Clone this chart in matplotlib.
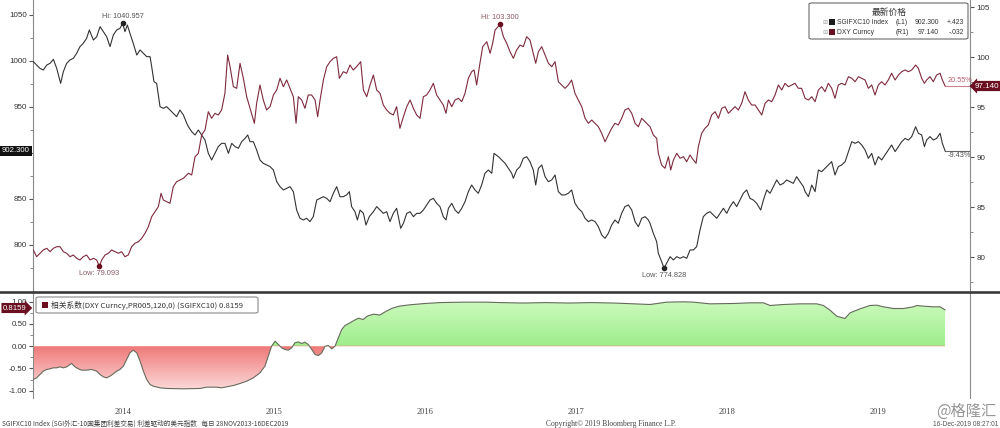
import numpy as np
import matplotlib
matplotlib.use('Agg')
import matplotlib.pyplot as plt
from matplotlib.patches import FancyBboxPatch, Rectangle
from matplotlib.path import Path
from matplotlib.lines import Line2D
import matplotlib.ticker as mt

# ---------------- data (decimal years) ----------------
sg_t = [2013.906, 2013.928, 2013.950, 2013.972, 2013.995, 2014.017, 2014.039, 2014.061, 2014.087, 2014.105,
        2014.127, 2014.149, 2014.171, 2014.193, 2014.215, 2014.237, 2014.259, 2014.277, 2014.304, 2014.326,
        2014.348, 2014.370, 2014.392, 2014.414, 2014.436, 2014.458, 2014.480, 2014.498, 2014.513, 2014.529,
        2014.546, 2014.568, 2014.591, 2014.613, 2014.635, 2014.657, 2014.679, 2014.690, 2014.705, 2014.723,
        2014.745, 2014.767, 2014.789, 2014.811, 2014.833, 2014.855, 2014.877, 2014.900, 2014.922,
        2014.933, 2014.955, 2014.977, 2014.999, 2015.021, 2015.043, 2015.065, 2015.087, 2015.109, 2015.131,
        2015.153, 2015.175, 2015.198, 2015.220, 2015.242, 2015.264, 2015.286, 2015.308, 2015.326, 2015.341,
        2015.363, 2015.385, 2015.407, 2015.429, 2015.451, 2015.474, 2015.496, 2015.518, 2015.540, 2015.562,
        2015.584, 2015.606, 2015.628, 2015.650, 2015.672, 2015.694, 2015.716, 2015.738, 2015.760, 2015.783,
        2015.805, 2015.827, 2015.849, 2015.871, 2015.893, 2015.915, 2015.937,
        2015.959, 2015.981, 2015.999, 2016.014, 2016.036, 2016.052, 2016.070, 2016.092, 2016.109, 2016.131,
        2016.158, 2016.180, 2016.202, 2016.224, 2016.246, 2016.268, 2016.290, 2016.312, 2016.339, 2016.357,
        2016.379, 2016.401, 2016.423, 2016.445, 2016.467, 2016.489, 2016.511, 2016.533, 2016.555, 2016.577,
        2016.599, 2016.621, 2016.639, 2016.655, 2016.677, 2016.699, 2016.721, 2016.743, 2016.765, 2016.787,
        2016.809, 2016.831, 2016.853, 2016.875, 2016.897, 2016.919, 2016.942, 2016.957,
        2016.986, 2017.008, 2017.030, 2017.052, 2017.074, 2017.085, 2017.107, 2017.129, 2017.151, 2017.173,
        2017.195, 2017.217, 2017.233, 2017.251, 2017.273, 2017.295, 2017.317, 2017.339, 2017.361, 2017.383,
        2017.405, 2017.427, 2017.449, 2017.471, 2017.493, 2017.515, 2017.538, 2017.560, 2017.582, 2017.604,
        2017.626, 2017.648, 2017.670, 2017.692, 2017.714, 2017.736, 2017.758, 2017.780, 2017.802, 2017.824,
        2017.847, 2017.869, 2017.891, 2017.913, 2017.935, 2017.957, 2017.979,
        2017.990, 2018.012, 2018.034, 2018.045, 2018.067, 2018.083, 2018.100, 2018.123, 2018.145, 2018.167,
        2018.189, 2018.211, 2018.233, 2018.255, 2018.277, 2018.299, 2018.321, 2018.343, 2018.365, 2018.387,
        2018.409, 2018.432, 2018.454, 2018.476, 2018.498, 2018.520, 2018.542, 2018.564, 2018.586, 2018.608,
        2018.630, 2018.652, 2018.674, 2018.696, 2018.723, 2018.741, 2018.763, 2018.785, 2018.807, 2018.829,
        2018.851, 2018.873, 2018.895, 2018.917, 2018.939, 2018.961, 2018.983, 2019.006,
        2019.017, 2019.039, 2019.061, 2019.083, 2019.105, 2019.127, 2019.149, 2019.171, 2019.193, 2019.215,
        2019.237, 2019.259, 2019.282, 2019.304, 2019.326, 2019.348, 2019.370, 2019.392, 2019.414, 2019.436,
        2019.458, 2019.480, 2019.502, 2019.524, 2019.546, 2019.568, 2019.590, 2019.613, 2019.635, 2019.657,
        2019.679, 2019.701, 2019.723, 2019.749, 2019.767, 2019.789, 2019.807, 2019.822, 2019.844, 2019.866,
        2019.888, 2019.911, 2019.926, 2019.944]
sg_v = [999.3, 995.6, 992.0, 990.2, 995.6, 997.5, 1001.8, 992.0, 975.7, 988.4,
        997.5, 1001.1, 1002.9, 1008.3, 1015.6, 1019.2, 1024.6, 1033.7, 1022.8, 1026.4,
        1037.3, 1031.9, 1026.4, 1015.6, 1028.3, 1033.7, 1035.5, 1040.957, 1031.9, 1039.1,
        1030.1, 1019.2, 1006.5, 1012.0, 1008.3, 1004.7, 1004.7, 993.8, 977.5, 975.7,
        950.4, 948.5, 950.4, 946.7, 943.1, 939.5, 946.7, 941.3, 932.3,
        928.6, 923.2, 919.6, 925.0, 919.6, 914.1, 899.6, 892.4, 899.6, 906.9,
        910.5, 910.5, 899.6, 910.5, 906.9, 905.1, 912.3, 915.9, 919.6, 912.3,
        912.3, 903.3, 892.4, 888.8, 887.0, 885.2, 881.5, 868.8, 863.4, 859.8,
        861.6, 863.4, 858.0, 838.0, 829.0, 827.2, 829.0, 825.4, 830.8, 848.9,
        850.7, 852.5, 850.7, 847.1, 856.2, 863.4, 852.5,
        852.5, 854.4, 858.0, 841.7, 836.2, 827.2, 838.0, 834.4, 821.7, 830.8,
        836.2, 841.7, 838.0, 834.4, 836.2, 825.4, 834.4, 839.9, 818.1, 823.6,
        834.4, 836.2, 830.8, 834.4, 834.4, 838.0, 843.5, 848.9, 850.7, 845.3,
        841.7, 830.8, 827.2, 839.9, 845.3, 838.0, 834.4, 839.9, 847.1, 858.0,
        865.2, 859.8, 856.2, 865.2, 877.9, 881.5, 877.9, 899.6,
        896.0, 892.4, 888.8, 883.3, 877.9, 872.5, 881.5, 885.2, 894.2, 896.0,
        890.6, 881.5, 865.2, 883.3, 887.0, 874.3, 868.8, 870.7, 876.1, 858.0,
        854.4, 854.4, 856.2, 859.8, 845.3, 839.9, 836.2, 829.0, 825.4, 827.2,
        825.4, 819.9, 810.9, 807.2, 812.7, 821.7, 827.2, 823.6, 834.4, 841.7,
        843.5, 838.0, 825.4, 819.9, 829.0, 830.8, 827.2,
        823.6, 812.7, 803.6, 791.0, 781.9, 774.828, 780.1, 787.3, 783.7, 787.3,
        785.5, 787.3, 785.5, 794.6, 794.6, 798.2, 816.3, 830.8, 834.4, 836.2,
        832.6, 829.0, 834.4, 839.9, 834.4, 841.7, 847.1, 841.7, 848.9, 856.2,
        859.8, 850.7, 848.9, 845.3, 838.0, 848.9, 859.8, 856.2, 863.4, 870.7,
        865.2, 867.0, 870.7, 868.8, 867.0, 874.3, 868.8, 863.4,
        858.0, 852.5, 865.2, 858.0, 881.5, 879.7, 883.3, 887.0, 890.6, 876.1,
        885.2, 887.0, 890.6, 901.5, 912.3, 910.5, 912.3, 908.7, 903.3, 894.2,
        899.6, 887.0, 896.0, 892.4, 897.8, 903.3, 908.7, 901.5, 906.9, 912.3,
        915.9, 914.1, 917.8, 928.6, 921.4, 919.6, 906.9, 914.1, 917.8, 914.1,
        915.9, 921.4, 910.5, 902.3]

dxy_t = [2013.906, 2013.928, 2013.950, 2013.972, 2013.995, 2014.017, 2014.039, 2014.061, 2014.083, 2014.105,
         2014.127, 2014.149, 2014.171, 2014.193, 2014.215, 2014.237, 2014.259, 2014.282, 2014.304, 2014.326,
         2014.343, 2014.359, 2014.381, 2014.403, 2014.425, 2014.447, 2014.469, 2014.491, 2014.513, 2014.535,
         2014.557, 2014.579, 2014.602, 2014.624, 2014.646, 2014.668, 2014.690, 2014.712, 2014.734, 2014.752,
         2014.767, 2014.789, 2014.811, 2014.833, 2014.855, 2014.877, 2014.900,
         2014.933, 2014.955, 2014.977, 2014.999, 2015.021, 2015.043, 2015.065, 2015.087, 2015.109, 2015.131,
         2015.153, 2015.175, 2015.193, 2015.209, 2015.231, 2015.253, 2015.275, 2015.297, 2015.319, 2015.341,
         2015.370, 2015.385, 2015.407, 2015.429, 2015.451, 2015.474, 2015.496, 2015.518, 2015.540, 2015.562,
         2015.584, 2015.606, 2015.628, 2015.646, 2015.661, 2015.683, 2015.705, 2015.727, 2015.749, 2015.772,
         2015.789, 2015.805, 2015.827, 2015.849, 2015.871, 2015.893, 2015.915, 2015.933,
         2015.959, 2015.981, 2016.003, 2016.025, 2016.047, 2016.074, 2016.092, 2016.114, 2016.136, 2016.158,
         2016.180, 2016.202, 2016.224, 2016.246, 2016.268, 2016.290, 2016.312, 2016.334, 2016.357, 2016.379,
         2016.401, 2016.423, 2016.445, 2016.467, 2016.489, 2016.511, 2016.533, 2016.555, 2016.577, 2016.599,
         2016.621, 2016.639, 2016.655, 2016.677, 2016.699, 2016.721, 2016.743, 2016.765, 2016.787, 2016.809,
         2016.825, 2016.842, 2016.860, 2016.882, 2016.909, 2016.931, 2016.948,
         2016.964, 2016.997, 2017.019, 2017.041, 2017.063, 2017.085, 2017.107, 2017.129, 2017.151, 2017.173,
         2017.195, 2017.217, 2017.233, 2017.251, 2017.273, 2017.295, 2017.317, 2017.339, 2017.361, 2017.383,
         2017.405, 2017.427, 2017.449, 2017.471, 2017.493, 2017.515, 2017.538, 2017.560, 2017.582, 2017.604,
         2017.626, 2017.648, 2017.670, 2017.692, 2017.714, 2017.736, 2017.758, 2017.780, 2017.802, 2017.824,
         2017.847, 2017.869, 2017.891, 2017.913, 2017.935, 2017.957, 2017.979,
         2017.990, 2018.012, 2018.034, 2018.045, 2018.067, 2018.089, 2018.112, 2018.127, 2018.145, 2018.167,
         2018.189, 2018.211, 2018.233, 2018.255, 2018.277, 2018.295, 2018.310, 2018.332, 2018.354, 2018.376,
         2018.398, 2018.421, 2018.443, 2018.465, 2018.487, 2018.509, 2018.531, 2018.553, 2018.575, 2018.597,
         2018.619, 2018.641, 2018.663, 2018.685, 2018.708, 2018.730, 2018.752, 2018.774, 2018.796, 2018.818,
         2018.840, 2018.862, 2018.884, 2018.906, 2018.928, 2018.950, 2018.972, 2018.994,
         2019.017, 2019.039, 2019.061, 2019.083, 2019.105, 2019.127, 2019.149, 2019.171, 2019.193, 2019.215,
         2019.237, 2019.259, 2019.282, 2019.304, 2019.326, 2019.348, 2019.370, 2019.392, 2019.414, 2019.436,
         2019.458, 2019.480, 2019.502, 2019.524, 2019.546, 2019.568, 2019.590, 2019.613, 2019.635, 2019.657,
         2019.679, 2019.701, 2019.723, 2019.749, 2019.767, 2019.789, 2019.807, 2019.822, 2019.844, 2019.866,
         2019.888, 2019.911, 2019.926, 2019.944]
dxy_v = [80.73, 80.06, 80.40, 80.73, 80.90, 80.56, 80.90, 81.06, 81.06, 80.56,
         80.40, 80.06, 80.23, 79.90, 79.73, 80.06, 80.23, 79.73, 79.90, 79.73,
         79.093, 79.73, 80.23, 80.40, 80.73, 80.56, 80.40, 80.56, 80.06, 80.23,
         81.06, 81.40, 81.56, 81.90, 82.40, 83.06, 84.06, 84.56, 85.06, 86.40,
         85.73, 85.56, 85.40, 87.06, 87.56, 87.73, 87.90,
         88.40, 88.23, 90.06, 90.40, 92.23, 92.73, 94.56, 93.90, 94.40, 94.23,
         94.73, 96.40, 100.23, 99.06, 97.06, 96.90, 99.40, 97.90, 96.06, 94.90,
         93.40, 95.40, 97.23, 95.73, 94.73, 95.06, 96.23, 96.73, 97.90, 97.06,
         97.73, 96.90, 96.06, 93.40, 96.06, 95.73, 94.90, 96.23, 96.23, 95.73,
         94.06, 95.73, 97.73, 99.06, 99.56, 99.90, 100.06, 97.90,
         98.56, 98.40, 99.23, 98.73, 99.06, 99.56, 96.73, 96.06, 97.23, 98.23,
         96.73, 96.40, 95.23, 94.73, 94.40, 94.23, 95.06, 92.90, 94.06, 95.06,
         95.73, 94.90, 94.23, 93.90, 96.06, 96.23, 96.73, 97.40, 96.23, 95.73,
         95.23, 94.40, 95.73, 95.06, 95.73, 95.90, 95.56, 96.40, 97.90, 98.56,
         98.73, 97.23, 99.06, 101.06, 101.56, 100.40, 101.40,
         102.73, 103.30, 102.06, 101.40, 100.56, 99.90, 100.73, 101.23, 101.06, 102.06,
         101.73, 100.40, 99.40, 100.56, 101.06, 100.23, 99.40, 99.06, 99.56, 97.56,
         97.23, 96.90, 97.23, 97.73, 96.40, 95.73, 95.06, 93.90, 93.40, 93.73,
         93.40, 93.06, 92.40, 91.56, 92.23, 92.90, 93.40, 93.23, 93.90, 94.73,
         94.90, 94.40, 93.40, 93.06, 93.90, 93.56, 93.23,
         93.06, 92.23, 91.90, 90.40, 89.23, 88.90, 90.06, 88.73, 89.73, 90.40,
         89.90, 90.06, 89.56, 90.23, 89.73, 89.40, 91.06, 92.40, 92.90, 93.23,
         94.23, 94.56, 93.90, 94.90, 95.06, 94.40, 94.73, 95.06, 94.73, 95.40,
         96.56, 95.73, 95.23, 95.23, 94.73, 94.23, 95.40, 95.73, 95.56, 96.23,
         97.23, 96.73, 97.40, 97.06, 97.23, 97.40, 96.90, 96.90,
         95.90, 95.73, 96.06, 95.56, 96.73, 97.06, 96.56, 97.40, 96.90, 95.90,
         97.23, 97.40, 97.23, 98.06, 97.90, 97.56, 98.06, 97.90, 97.73, 96.90,
         97.23, 96.23, 97.23, 97.56, 97.23, 97.73, 98.40, 97.73, 98.23, 98.56,
         98.73, 98.56, 98.73, 99.23, 98.90, 97.90, 97.40, 97.73, 98.06, 97.56,
         98.23, 98.40, 97.73, 97.14]

corr_t = [2013.906, 2013.928, 2013.950, 2013.972, 2013.994, 2014.017, 2014.039, 2014.061, 2014.083, 2014.105,
          2014.127, 2014.149, 2014.160, 2014.182, 2014.204, 2014.226, 2014.259, 2014.292, 2014.326, 2014.348,
          2014.370, 2014.392, 2014.414, 2014.436, 2014.458, 2014.480, 2014.502, 2014.524, 2014.546, 2014.568,
          2014.591, 2014.613, 2014.635, 2014.657, 2014.679, 2014.701, 2014.745, 2014.789, 2014.900, 2015.010,
          2015.054, 2015.120, 2015.153, 2015.187, 2015.231, 2015.275, 2015.319, 2015.363, 2015.407, 2015.440,
          2015.462, 2015.484, 2015.507, 2015.529, 2015.551, 2015.573, 2015.595, 2015.617, 2015.639, 2015.661,
          2015.683, 2015.705, 2015.727, 2015.750, 2015.772, 2015.794, 2015.816, 2015.838, 2015.860, 2015.882,
          2015.904, 2015.926, 2015.948, 2015.970, 2016.003, 2016.030, 2016.060, 2016.090, 2016.120, 2016.160,
          2016.200, 2016.240, 2016.280, 2016.330, 2016.400, 2016.500, 2016.600, 2016.750, 2016.900, 2017.000,
          2017.150, 2017.300, 2017.450, 2017.600, 2017.750, 2017.900, 2017.990, 2018.100, 2018.211, 2018.277,
          2018.321, 2018.387, 2018.542, 2018.652, 2018.741, 2018.785, 2018.873, 2018.983, 2019.094, 2019.138,
          2019.182, 2019.226, 2019.281, 2019.315, 2019.381, 2019.447, 2019.491, 2019.535, 2019.602, 2019.668,
          2019.734, 2019.756, 2019.800, 2019.867, 2019.911, 2019.944]
corr_v = [-0.748, -0.711, -0.636, -0.561, -0.523, -0.508, -0.486, -0.486, -0.464, -0.486,
          -0.464, -0.411, -0.389, -0.464, -0.508, -0.538, -0.538, -0.523, -0.561, -0.636,
          -0.688, -0.711, -0.673, -0.621, -0.561, -0.523, -0.449, -0.299, -0.149, -0.089,
          -0.149, -0.336, -0.561, -0.748, -0.861, -0.898, -0.935, -0.950, -0.958, -0.950,
          -0.920, -0.920, -0.935, -0.913, -0.883, -0.838, -0.786, -0.711, -0.598, -0.449,
          -0.224, 0.001, 0.113, 0.038, -0.037, -0.074, -0.089, -0.037, 0.076, 0.098,
          0.061, 0.091, 0.038, -0.074, -0.186, -0.209, -0.149, 0.001, 0.016, -0.059,
          0.001, 0.188, 0.375, 0.465, 0.525, 0.58, 0.63, 0.60, 0.68, 0.72,
          0.70, 0.78, 0.85, 0.90, 0.93, 0.96, 0.98, 0.99, 0.99, 0.98,
          0.97, 0.98, 0.97, 0.98, 0.97, 0.95, 0.937, 0.990, 0.997, 0.990,
          0.975, 0.952, 0.960, 0.975, 0.975, 0.915, 0.937, 0.952, 0.952, 0.915,
          0.810, 0.675, 0.623, 0.750, 0.840, 0.915, 0.922, 0.885, 0.847, 0.847,
          0.885, 0.915, 0.900, 0.885, 0.885, 0.8159]

year_labels = ['2014', '2015', '2016', '2017', '2018', '2019']
year_pos = [2014.5, 2015.5, 2016.5, 2017.5, 2018.5, 2019.5]

# ---------------- layout ----------------
plt.rcParams['font.family'] = ['Liberation Sans', 'DejaVu Sans']
CJK = ['Noto Sans CJK SC', 'DejaVu Sans']
SERIF = ['Liberation Serif', 'DejaVu Serif']
W, H = 1000, 428
fig = plt.figure(figsize=(10, 4.28), dpi=100)


def fx(p):
    return p / W


def fy(p):
    return 1 - p / H


XL, XR = 33, 970
XLIM = (2013.904, 2020.109)
ax = fig.add_axes([fx(XL), fy(292), fx(XR - XL), 292 / H])
axr = ax.twinx()
axc = fig.add_axes([fx(XL), fy(398), fx(XR - XL), 106 / H])

BLACK = '#333333'
RED = '#7e2a3c'
DARKRED = '#6a1020'
SPINE = '#8a8a8a'

ax.plot(sg_t, sg_v, color=BLACK, lw=0.8, zorder=3)
axr.plot(dxy_t, dxy_v, color=RED, lw=0.8, zorder=3)

# end-of-series markers / percentage labels
ax.plot([sg_t[-1], XLIM[1]], [sg_v[-1], sg_v[-1]], color='#666666', lw=0.8)
ax.text(sg_t[-1] + 0.02, sg_v[-1] - 1.5, '-9.43%', fontsize=5.3, color='#555555', va='top', ha='left')
axr.plot([dxy_t[-1], XLIM[1]], [dxy_v[-1], dxy_v[-1]], color='#cc8090', lw=0.8)
axr.text(dxy_t[-1] + 0.02, dxy_v[-1] + 0.15, '20.55%', fontsize=5.3, color='#b86070', va='bottom', ha='left')

# hi / low annotations
i_hi = int(np.argmax(sg_v)); i_lo = int(np.argmin(sg_v))
ax.plot(sg_t[i_hi], sg_v[i_hi], 'o', ms=3, color='#222222', zorder=4)
ax.annotate('Hi: %.3f' % sg_v[i_hi], (sg_t[i_hi], sg_v[i_hi]), xytext=(0, 2.5), textcoords='offset points',
            ha='center', va='bottom', fontsize=5.3, color='#555555')
ax.plot(sg_t[i_lo], sg_v[i_lo], 'o', ms=3, color='#222222', zorder=4)
ax.annotate('Low: %.3f' % sg_v[i_lo], (sg_t[i_lo], sg_v[i_lo]), xytext=(0, -2.5), textcoords='offset points',
            ha='center', va='top', fontsize=5.3, color='#555555')
j_hi = int(np.argmax(dxy_v)); j_lo = int(np.argmin(dxy_v))
axr.plot(dxy_t[j_hi], dxy_v[j_hi], 'o', ms=3, color=DARKRED, zorder=4)
axr.annotate('Hi: %.3f' % dxy_v[j_hi], (dxy_t[j_hi], dxy_v[j_hi]), xytext=(0, 2.5), textcoords='offset points',
             ha='center', va='bottom', fontsize=5.3, color='#8a5a64')
axr.plot(dxy_t[j_lo], dxy_v[j_lo], 'o', ms=3, color=DARKRED, zorder=4)
axr.annotate('Low: %.3f' % dxy_v[j_lo], (dxy_t[j_lo], dxy_v[j_lo]), xytext=(0, -2.5), textcoords='offset points',
             ha='center', va='top', fontsize=5.3, color='#8a5a64')

# axes formatting
ax.set_xlim(*XLIM)
ax.set_ylim(748.9, 1066.3)
axr.set_ylim(76.53, 105.73)
ax.yaxis.set_major_locator(mt.FixedLocator([800, 850, 900, 950, 1000, 1050]))
ax.yaxis.set_minor_locator(mt.FixedLocator([775, 825, 875, 925, 975, 1025]))
# the 900 label sits under the last-value box, as in the reference
ax.yaxis.set_major_formatter(mt.FuncFormatter(lambda v, p: '' if abs(v - 900) < 1 else '%d' % v))
axr.yaxis.set_major_locator(mt.FixedLocator([80, 85, 90, 95, 100, 105]))
axr.yaxis.set_minor_locator(mt.FixedLocator([77.5, 82.5, 87.5, 92.5, 97.5, 102.5]))
for a in (ax, axr, axc):
    a.tick_params(axis='y', which='major', direction='out', length=3, width=0.8, color='#555555',
                  labelsize=5.8, labelcolor='#333333', pad=1.5)
    a.tick_params(axis='y', which='minor', direction='out', length=2, width=0.6, color='#777777')
    for s in a.spines.values():
        s.set_visible(False)
ax.tick_params(axis='x', bottom=False, labelbottom=False)
axr.tick_params(axis='x', bottom=False, labelbottom=False)
ax.spines['left'].set_visible(True); ax.spines['left'].set_color(SPINE); ax.spines['left'].set_linewidth(0.8)
axr.spines['right'].set_visible(True); axr.spines['right'].set_color(SPINE); axr.spines['right'].set_linewidth(0.8)
axc.spines['left'].set_visible(True); axc.spines['left'].set_color(SPINE); axc.spines['left'].set_linewidth(0.8)
axc.spines['right'].set_visible(True); axc.spines['right'].set_color(SPINE); axc.spines['right'].set_linewidth(0.8)
axc.tick_params(axis='y', right=False)
ax.patch.set_alpha(0)

# ---------------- correlation panel ----------------
ct = np.array(corr_t); cv = np.array(corr_v)
neg = axc.fill_between(ct, cv, 0, where=cv <= 0, interpolate=True, facecolor='none', edgecolor='none')
pos = axc.fill_between(ct, cv, 0, where=cv >= 0, interpolate=True, facecolor='none', edgecolor='none')
yy = np.linspace(-1.2, 1.2, 300)
rgb = np.zeros((300, 2, 3))
r0, r1 = np.array([0.94, 0.47, 0.47]), np.array([0.99, 0.86, 0.86])
g0, g1 = np.array([0.62, 0.93, 0.55]), np.array([0.80, 0.98, 0.74])
for k, yv in enumerate(yy):
    f = min(abs(yv), 1.0)
    col = (r0 + (r1 - r0) * f) if yv < 0 else (g0 + (g1 - g0) * f)
    rgb[k, :, :] = col
for coll in (neg, pos):
    paths = coll.get_paths()
    if paths:
        cp = Path.make_compound_path(*paths)
        im = axc.imshow(rgb, extent=[XLIM[0], XLIM[1], -1.2, 1.2], origin='lower', aspect='auto',
                        zorder=1, interpolation='bilinear')
        im.set_clip_path(cp, axc.transData)
axc.plot(ct, cv, color='#666a5c', lw=0.8, zorder=3)
axc.set_xlim(*XLIM)
axc.set_ylim(-1.164, 1.218)
axc.yaxis.set_major_locator(mt.FixedLocator([-1.0, -0.5, 0.0, 0.5, 1.0]))
axc.yaxis.set_minor_locator(mt.FixedLocator([-0.75, -0.25, 0.25, 0.75]))
axc.yaxis.set_major_formatter(mt.FormatStrFormatter('%.2f'))
axc.set_xticks(year_pos)
axc.set_xticklabels(year_labels)
axc.tick_params(axis='x', length=0, pad=7, labelsize=6, labelcolor='#444444')
for lab in axc.get_xticklabels():
    lab.set_fontfamily(SERIF)

# separator line
fig.add_artist(Line2D([0, 1], [fy(292), fy(292)], transform=fig.transFigure, color='#3a3a3a', lw=1.9))

# ---------------- legend (top right) ----------------
fig.add_artist(FancyBboxPatch((fx(809), fy(39)), fx(159), 36 / H, boxstyle='round,pad=0,rounding_size=0.003',
                              transform=fig.transFigure, fc='white', ec='#6a6a6a', lw=0.8, zorder=5))
fig.text(fx(889), fy(12), '最新价格', ha='center', va='center', fontsize=6.3, family=CJK, color='#333333', zorder=6)
rows = [(22, '#1a1a1a', 'SGIFXC10 Index', '(L1)', '902.300', '+.423'),
        (32, DARKRED, 'DXY Curncy', '(R1)', '97.140', '-.032')]
for yr, colr, name, side, val, chg in rows:
    fig.text(fx(825), fy(yr), '⊞', ha='center', va='center', fontsize=4.5, color='#aaaaaa', family='DejaVu Sans', zorder=6)
    fig.add_artist(Rectangle((fx(829), fy(yr + 3)), fx(6), 6 / H, transform=fig.transFigure, fc=colr, ec='none', zorder=6))
    fig.text(fx(837), fy(yr), name, ha='left', va='center', fontsize=4.9, color='#333333', zorder=6)
    fig.text(fx(896), fy(yr), side, ha='left', va='center', fontsize=4.9, color='#333333', zorder=6)
    fig.text(fx(939), fy(yr), val, ha='right', va='center', fontsize=4.9, color='#333333', zorder=6)
    fig.text(fx(964), fy(yr), chg, ha='right', va='center', fontsize=4.9, color='#333333', zorder=6)

# ---------------- legend (correlation) ----------------
fig.add_artist(FancyBboxPatch((fx(36), fy(313)), fx(222), 16 / H, boxstyle='round,pad=0,rounding_size=0.003',
                              transform=fig.transFigure, fc='white', ec='#8a8a8a', lw=0.8, zorder=5))
fig.add_artist(Rectangle((fx(42), fy(308)), fx(6), 6 / H, transform=fig.transFigure, fc=DARKRED, ec='none', zorder=6))
fig.text(fx(51), fy(305), '相关系数(DXY Curncy,PR005,120,0) (SGIFXC10) 0.8159', ha='left', va='center',
         fontsize=5.6, family=CJK, color='#333333', zorder=6)

# ---------------- value boxes ----------------
fig.text(fx(2), fy(151), '902.300', ha='left', va='center', fontsize=5.6, color='white',
         bbox=dict(boxstyle='square,pad=0.25', fc='#111111', ec='none'))
fig.text(fx(975), fy(86), '97.140', ha='left', va='center', fontsize=5.8, color='white',
         bbox=dict(boxstyle='larrow,pad=0.2', fc=DARKRED, ec='none'))
fig.text(fx(3), fy(308), '0.8159', ha='left', va='center', fontsize=5.6, color='white',
         bbox=dict(boxstyle='rarrow,pad=0.2', fc=DARKRED, ec='none'))

# ---------------- footer ----------------
fig.text(fx(2), fy(424), 'SGIFXC10 Index (SGI外汇-10国集团利差交易) 利差驱动的美元指数   每日 28NOV2013-16DEC2019',
         ha='left', va='center', fontsize=4.8, family=CJK, color='#444444')
fig.text(fx(611), fy(424), 'Copyright© 2019 Bloomberg Finance L.P.', ha='center', va='center', fontsize=5.5,
         family=SERIF, color='#444444')
fig.text(fx(998), fy(425), '16-Dec-2019 08:27:01', ha='right', va='center', fontsize=4.8, color='#555555')
fig.text(fx(966), fy(411), '@格隆汇', ha='center', va='center', fontsize=11, family=CJK, color='#8c8c8c', alpha=0.9)

fig.savefig('out.png', dpi=100)
